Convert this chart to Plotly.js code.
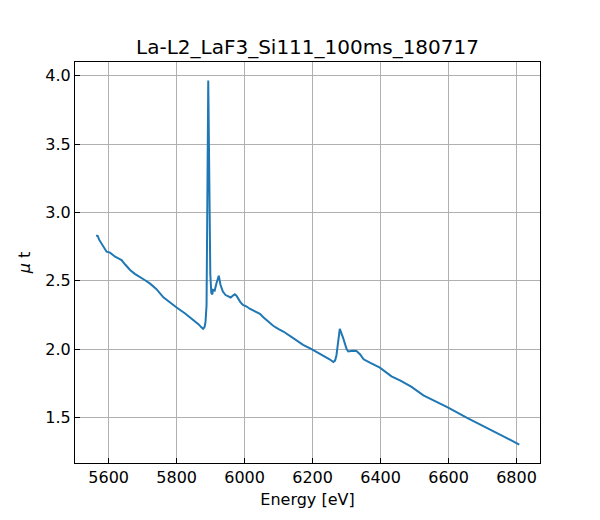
<!DOCTYPE html>
<html>
<head>
<meta charset="utf-8">
<script src="https://cdn.plot.ly/plotly-3.0.1.min.js"></script>
<style>
  body { margin: 0; background: #fff; }
  #plot { width: 600px; height: 520px; }
</style>
</head>
<body>
<div id="plot"></div>
<script>
// energy (eV) and absorption mu*t
var energy = [
    5563, 5568, 5572, 5579, 5586, 5594, 5604, 5612, 5619, 5630,
    5638, 5648, 5663, 5677, 5692, 5706, 5721, 5740, 5761, 5780,
    5800, 5825, 5849, 5865, 5872, 5878, 5882, 5885, 5888, 5890,
    5892, 5893, 5895, 5897, 5899, 5902, 5905, 5907, 5912, 5917,
    5922, 5924, 5929, 5936, 5944, 5951, 5959, 5965, 5971, 5976,
    5980, 5987, 5995, 6006, 6015, 6025, 6035, 6045, 6055, 6065,
    6084, 6100, 6114, 6143, 6172, 6197, 6231, 6250, 6261, 6266,
    6270, 6274, 6280, 6290, 6300, 6305, 6318, 6329, 6340, 6350,
    6357, 6370, 6398, 6415, 6432, 6457, 6490, 6526, 6560, 6599,
    6653, 6700, 6732, 6770, 6808
];
var mut = [
    2.830, 2.827, 2.800, 2.770, 2.740, 2.712, 2.705, 2.690, 2.675, 2.662,
    2.651, 2.620, 2.578, 2.550, 2.529, 2.505, 2.480, 2.440, 2.378, 2.340,
    2.304, 2.260, 2.216, 2.180, 2.160, 2.148, 2.160, 2.200, 2.320, 2.800,
    3.500, 3.965, 3.500, 2.900, 2.550, 2.410, 2.400, 2.433, 2.428, 2.480,
    2.530, 2.536, 2.470, 2.420, 2.395, 2.384, 2.377, 2.390, 2.400, 2.390,
    2.370, 2.345, 2.322, 2.311, 2.295, 2.282, 2.265, 2.258, 2.232, 2.209,
    2.170, 2.145, 2.128, 2.080, 2.031, 2.000, 1.953, 1.925, 1.905, 1.915,
    1.950, 2.030, 2.147, 2.080, 2.000, 1.982, 1.988, 1.986, 1.960, 1.925,
    1.914, 1.898, 1.864, 1.830, 1.800, 1.770, 1.725, 1.661, 1.620, 1.571,
    1.498, 1.440, 1.400, 1.350, 1.300
];
var xTicks = [5600, 5800, 6000, 6200, 6400, 6600, 6800];
var yTicks = [1.5, 2.0, 2.5, 3.0, 3.5, 4.0];

var trace = {
    x: energy,
    y: mut,
    mode: 'lines',
    type: 'scatter',
    line: { color: '#1f77b4', width: 2 }
};

var axisStyle = {
    showline: true,
    mirror: true,
    linecolor: '#000',
    linewidth: 1,
    ticks: 'inside',
    ticklen: 5,
    tickcolor: '#000',
    showgrid: true,
    gridcolor: '#b0b0b0',
    gridwidth: 1,
    zeroline: false,
    tickfont: { size: 16, color: '#000' }
};

var layout = {
    width: 600,
    height: 520,
    margin: { l: 75, r: 60, t: 62, b: 57 },
    paper_bgcolor: '#fff',
    plot_bgcolor: '#fff',
    font: { family: 'DejaVu Sans', color: '#000' },
    showlegend: false,
    title: {
        text: 'La-L2_LaF3_Si111_100ms_180717',
        font: { size: 20 },
        x: 0.5125, xanchor: 'center',
        yref: 'container', y: 1 - 47 / 520, yanchor: 'middle'
    },
    xaxis: Object.assign({}, axisStyle, {
        range: [5501, 6869],
        tickvals: xTicks,
        ticktext: xTicks.map(String),
        title: { text: 'Energy [eV]', font: { size: 16 }, standoff: 7 }
    }),
    yaxis: Object.assign({}, axisStyle, {
        range: [1.166, 4.1],
        tickvals: yTicks,
        ticktext: yTicks.map(function (v) { return v.toFixed(1); }),
        title: { text: '<i>μ</i> t', font: { size: 16 }, standoff: 10 }
    })
};

Plotly.newPlot('plot', [trace], layout, { displayModeBar: false, staticPlot: true });
</script>
</body>
</html>
